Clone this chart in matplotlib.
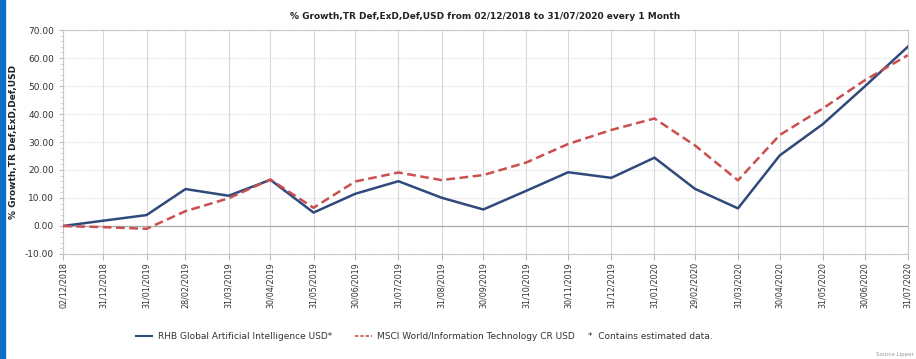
import pandas as pd
import matplotlib
matplotlib.use("Agg")
import matplotlib.pyplot as plt
from matplotlib.patches import Rectangle
from matplotlib.lines import Line2D
from matplotlib.ticker import MultipleLocator, FormatStrFormatter

# Month-end dates used as x ticks
dates = ["02/12/2018", "31/12/2018", "31/01/2019", "28/02/2019", "31/03/2019",
         "30/04/2019", "31/05/2019", "30/06/2019", "31/07/2019", "31/08/2019",
         "30/09/2019", "31/10/2019", "30/11/2019", "31/12/2019", "31/01/2020",
         "29/02/2020", "31/03/2020", "30/04/2020", "31/05/2020", "30/06/2020",
         "31/07/2020"]

# % growth of the fund
fund_growth = [0.0, 1.9, 3.9, 13.2, 10.8, 16.5, 4.8, 11.5, 16.0, 10.1,
               5.9, 12.6, 19.2, 17.2, 24.4, 13.3, 6.3, 25.2, 36.4, 49.8, 64.0]

# % growth of the benchmark index
index_growth = [0.0, -0.4, -1.0, 5.3, 9.9, 16.6, 6.5, 15.9, 19.1, 16.4,
                18.2, 22.7, 29.3, 34.3, 38.4, 28.8, 16.3, 32.5, 42.0, 52.0, 61.0]

fund_name = "RHB Global Artificial Intelligence USD*"
index_name = "MSCI World/Information Technology CR USD"

x = pd.to_datetime(dates, format="%d/%m/%Y")

fig = plt.figure(figsize=(9.16, 3.59), dpi=100)
ax = fig.add_axes([0.0688, 0.2925, 0.9222, 0.6239])

# Blue bar along the left edge of the image
fig.patches.append(Rectangle((0, 0), 5 / 916, 1, transform=fig.transFigure,
                             color="#0b6fc6", zorder=0))

ax.plot(x, fund_growth, color="#2f4a7a", linewidth=1.8, zorder=3)
ax.plot(x, index_growth, color="#c9504f", linewidth=1.8, linestyle=(0, (3.5, 1.8)), zorder=3)

ax.set_xlim(x[0], x[-1])
ax.set_ylim(-10, 70)
ax.set_xticks(x)
ax.set_xticklabels(dates, rotation=90, fontsize=5.8, color="#333333")
ax.yaxis.set_major_locator(MultipleLocator(10))
ax.yaxis.set_minor_locator(MultipleLocator(2))
ax.yaxis.set_major_formatter(FormatStrFormatter("%.2f"))
ax.tick_params(axis="y", labelsize=6.5, colors="#333333", length=3, color="#bbbbbb")
ax.tick_params(axis="y", which="minor", length=2, color="#cccccc")
ax.tick_params(axis="x", length=4, color="#bbbbbb", pad=2)

# Grid lines
ax.grid(axis="x", color="#d8d8d8", linewidth=0.8)
ax.grid(axis="y", color="#dddddd", linewidth=0.8, linestyle=(0, (1, 1)))
ax.axhline(0, color="#aaaaaa", linewidth=0.9, zorder=2)

for s in ax.spines.values():
    s.set_color("#c8c8c8")
    s.set_linewidth(0.8)

ax.set_title("% Growth,TR Def,ExD,Def,USD from 02/12/2018 to 31/07/2020 every 1 Month",
             fontsize=6.5, fontweight="bold", color="#222222", pad=8)
ax.set_ylabel("% Growth,TR Def,ExD,Def,USD", fontsize=6.5, fontweight="bold",
              color="#222222", labelpad=5)

# Legend below the chart
handles = [Line2D([], [], color="#2f4a7a", linewidth=1.5),
           Line2D([], [], color="#c9504f", linewidth=1.2, linestyle=(0, (2, 1.2)))]
fig.legend(handles, [fund_name, index_name], loc="center", bbox_to_anchor=(0.388, 0.063),
           ncol=2, frameon=False, fontsize=6.5, handlelength=1.8, columnspacing=2.6,
           handletextpad=0.6, labelcolor="#333333")
fig.text(588 / 916, 0.063, "*  Contains estimated data.", fontsize=6.5, color="#333333",
         va="center", ha="left")
fig.text(0.998, 0.005, "Source Lipper", fontsize=4, color="#999999", ha="right", va="bottom")

fig.savefig("out.png", dpi=100)
